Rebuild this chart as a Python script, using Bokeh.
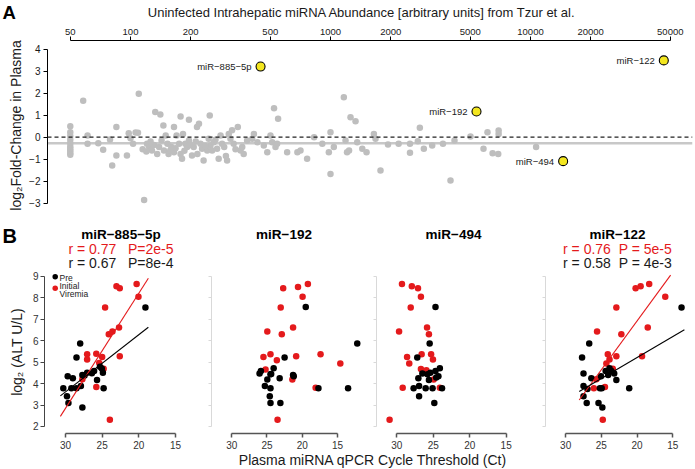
import numpy as np
from bokeh.plotting import figure
from bokeh.layouts import column, row
from bokeh.models import (Range1d, FixedTicker, PrintfTickFormatter, Span, Label, ColumnDataSource,
                          CustomLabelingPolicy)
from bokeh.embed import file_html
from bokeh.resources import INLINE
from bokeh.core.properties import value

FONT = "Liberation Sans"
RED = "#e41a1c"
BLACK = "#000000"
GRAY_PT = "#bebebe"
YELLOW = "#f3e61f"
TXT = "#1a1a1a"
NB = "\u00a0"

# ================= DATA : panel A =================
gray_abundance = [50, 50, 50, 50, 50, 50, 50, 50, 50, 50,
                  58, 61, 61, 69, 73, 79, 81, 85, 85, 96,
                  98, 100, 103, 106, 109, 110, 115, 117, 121, 124,
                  128, 131, 133, 136, 139, 141, 146, 147, 150, 153,
                  155, 160, 165, 165, 170, 175, 178, 178, 181, 183,
                  188, 192, 196, 196, 203, 207, 215, 216, 220, 224,
                  228, 232, 242, 249, 246, 251, 261, 271, 276, 282,
                  287, 304, 310, 316, 322, 328, 344, 355, 362, 368,
                  383, 406, 414, 431, 464, 483, 501, 511, 522, 531,
                  541, 547, 607, 683, 708, 764, 828, 910, 981, 1000,
                  1000, 1039, 1166, 1189, 1210, 1238, 1259, 1334, 1360, 1442,
                  1514, 1648, 1679, 1778, 1939, 2191, 2497, 2497, 2733, 2797,
                  2929, 3224, 3650, 3981, 4169, 5012, 5821, 6095, 6463, 6897,
                  6929, 6929, 10666, 143, 158, 168, 186, 199, 212, 236,
                  256, 266, 294, 300, 335, 120, 126]
gray_log2fc = [0.50, 0.22, 0.05, -0.12, -0.28, -0.42, -0.52, -0.62, -0.72, -0.80,
               1.66, 0.08, -0.30, -0.27, -0.57, -0.10, -1.29, 0.46, -0.83, -0.83,
               0.18, -0.05, -0.30, 0.21, 0.20, 1.97, -0.55, -2.85, -0.30, -0.45,
               -0.60, -0.35, 1.14, -0.76, -0.45, 1.03, 0.53, -0.60, 0.08, -0.30,
               -0.76, -0.45, 0.46, -0.68, 0.08, -0.30, 0.94, -0.76, -0.98, 0.15,
               -0.30, -0.45, 0.79, -0.15, -0.83, -0.45, 0.46, -0.76, 0.61, -0.30,
               -0.53, -1.06, -0.60, 0.99, -0.07, -0.38, -0.23, -0.53, -0.98, 0.08,
               -0.30, -1.06, 0.15, -0.07, 0.31, -0.30, 0.46, -0.60, -0.45, -0.76,
               -0.15, -0.07, 0.15, -0.23, -0.38, -0.68, 0.08, -0.23, 1.32, -0.45,
               -0.30, 0.84, -0.68, -0.68, -0.60, -0.98, 0.00, -0.30, -0.68, 0.23,
               -1.67, -0.45, 1.82, -0.15, -0.68, -0.60, 0.91, 0.73, -0.23, -0.53,
               -0.68, 0.15, -0.07, -1.51, -0.33, -0.30, -0.30, -0.71, -0.18, 0.43,
               -0.53, -0.38, -0.30, -1.97, -0.15, 0.03, -0.53, 0.23, -0.73, -0.76,
               0.30, 0.15, -0.45, -0.15, -0.60, -0.50, -0.62, -0.35, -0.20, -0.40,
               -0.60, -0.12, -0.45, -0.85, -0.55, -0.65, -0.20]
hl_names = ["miR\u2212885\u22125p", "miR\u2212192", "miR\u2212494", "miR\u2212122"]
hl_abundance = [447, 5370, 14560, 46400]
hl_log2fc = [3.21, 1.17, -1.09, 3.49]
median_log2fc = -0.28
a_xticks = [50, 100, 200, 500, 1000, 2000, 5000, 10000, 20000, 50000]
a_yticks = [-3, -2, -1, 0, 1, 2, 3, 4]
a_title = "Uninfected Intrahepatic miRNA Abundance [arbitrary units] from Tzur et al."
a_ylabel = "log\u2082Fold-Change in Plasma"

# ================= DATA : panel B =================
b_mirs = ["miR\u2212885\u22125p", "miR\u2212192", "miR\u2212494", "miR\u2212122"]
pre_ct = {
    "miR\u2212885\u22125p": [30.3, 29.8, 29.6, 29.7, 29.0, 29.2, 28.5, 28.0, 28.5, 27.9, 27.7,
                             27.7, 27.4, 27.05, 26.4, 26.1, 25.7, 25.3, 25.05, 24.9, 24.8, 19.1],
    "miR\u2212192": [19.5, 12.2, 22.5, 24.05, 25.86, 26.05, 24.5, 21.2, 23.2, 24.95, 25.3,
                     24.5, 17.7, 13.5, 24.6, 24.5, 23.1, 24.4, 21.3],
    "miR\u2212494": [24.7, 25.5, 27.2, 24.1, 24.7, 26.5, 25.8, 27.05, 24.3, 25.6, 26.95,
                     27.7, 26.05, 25.1, 23.8, 26.95, 24.86, 25.4, 24.6],
    "miR\u2212122": [13.77, 26.7, 27.7, 27.5, 26.4, 27.5, 26.95, 27.5, 27.05, 25.4, 24.86,
                     25.2, 24.95, 25.05, 24.4, 23.86, 24.05, 23.6, 23.2, 22.9, 21.1],
}
pre_alt = {
    "miR\u2212885\u22125p": [3.78, 3.41, 3.10, 4.34, 4.25, 3.78, 3.78, 5.86, 5.21, 3.88, 2.88,
                             4.40, 4.37, 4.50, 4.48, 4.59, 4.16, 4.78, 4.70, 4.50, 3.78, 7.54],
    "miR\u2212192": [7.56, 5.86, 5.21, 4.71, 4.59, 4.47, 4.43, 4.34, 4.25, 4.19, 3.88,
                     3.78, 3.78, 3.78, 3.41, 3.10, 3.10, 4.45, 4.40],
    "miR\u2212494": [7.56, 5.86, 5.21, 4.71, 4.59, 4.47, 4.43, 4.25, 4.34, 4.16, 3.88,
                     3.78, 3.78, 3.78, 3.78, 3.41, 3.10, 4.50, 4.28],
    "miR\u2212122": [7.54, 5.86, 5.21, 4.47, 4.25, 3.88, 3.75, 3.41, 3.10, 3.10, 2.88,
                     3.78, 3.78, 4.34, 4.59, 4.71, 4.40, 4.59, 4.47, 4.16, 3.78],
}
vir_ct = {
    "miR\u2212885\u22125p": [20.3, 20.05, 23.05, 22.6, 24.6, 24.1, 23.6, 22.7, 22.6, 25.0, 25.8,
                             27.05, 27.05, 25.4, 25.8, 23.95, 27.7, 24.8],
    "miR\u2212192": [19.2, 20.6, 22.7, 19.95, 23.05, 21.3, 24.95, 22.9, 17.4, 24.5, 25.5,
                     20.86, 23.6, 14.6, 25.2, 21.4, 18.1, 23.5],
    "miR\u2212494": [29.3, 27.95, 27.1, 26.7, 28.1, 25.86, 25.6, 29.7, 26.6, 28.6, 25.3,
                     25.05, 28.3, 26.7, 25.95, 24.95, 29.2, 24.1, 31.0],
    "miR\u2212122": [18.3, 19.5, 20.2, 16.05, 22.9, 25.6, 22.2, 18.5, 24.1, 23.86, 22.9,
                     19.3, 24.3, 25.7, 26.05, 24.5, 24.8, 23.4],
}
vir_alt = {
    "miR\u2212885\u22125p": [8.63, 8.04, 8.53, 8.44, 7.54, 6.30, 6.42, 6.61, 5.27, 5.24, 5.39,
                             5.37, 5.12, 4.96, 3.84, 2.32, 4.20, 4.69],
    "miR\u2212192": [8.63, 8.50, 8.44, 8.04, 7.54, 6.61, 6.42, 6.30, 5.37, 5.37, 5.24,
                     5.27, 5.09, 4.93, 4.65, 4.19, 3.81, 2.32],
    "miR\u2212494": [8.63, 8.53, 8.44, 8.04, 7.54, 6.61, 6.30, 6.42, 5.37, 5.24, 5.37,
                     5.12, 4.93, 4.68, 4.62, 4.19, 3.81, 3.81, 2.32],
    "miR\u2212122": [8.63, 8.53, 8.44, 8.04, 7.54, 6.42, 6.30, 6.61, 5.37, 5.12, 5.27,
                     5.27, 4.93, 4.20, 3.78, 3.84, 2.32, 4.69],
}
b_stats = {
    "miR\u2212885\u22125p": ("r = 0.77" + NB * 3 + "P=2e-5", "r = 0.67" + NB * 3 + "P=8e-4"),
    "miR\u2212122": ("r = 0.76" + NB * 2 + "P = 5e-5", "r = 0.58" + NB * 2 + "P = 4e-3"),
}
fit_y_limits = (1.85, 9.05)
b_xticks = [30, 25, 20, 15]
b_yticks = [2, 3, 4, 5, 6, 7, 8, 9]
b_ylabel = "log\u2082 (ALT U/L)"
b_xlabel = "Plasma miRNA qPCR Cycle Threshold (Ct)"
legend_labels = ["Pre", "Initial", "Viremia"]

# ================= GEOMETRY (page pixels) =================
WIN_W, WIN_H = 695, 469

# panel A
A_HEAD = 23
A_L, A_R, A_T, A_B = 47, 692, 40, 210
A_X = (38.46, 64565.0)
A_Y = (-3.332, 4.395)

# panel B
B_TOP, B_BOT, B_FIG_BOTTOM = 270, 433, 452
B_Y = (1.674, 9.264)
CT_PX = 7.333
fig_edges = [0, 199, 364, 533, WIN_W]
frames = [(44, 197), (205, 362), (375, 531), (541, 693)]
ct30_px = [65, 226, 395.5, 561.7]


def style_axis(a, size="10px", color="#000000", lw=1.0, tick_out=4, standoff=3, label_color=TXT):
    a.axis_line_color = color
    a.axis_line_width = lw
    a.major_tick_line_color = color
    a.major_tick_line_width = lw
    a.major_tick_out = tick_out
    a.major_tick_in = 0
    a.minor_tick_line_color = None
    a.major_label_text_font = FONT
    a.major_label_text_font_size = size
    a.major_label_text_color = label_color
    a.major_label_standoff = standoff
    a.axis_label_text_font = FONT
    a.axis_label_text_font_style = "normal"
    a.axis_label_text_color = TXT


def text_strip(top, bottom):
    """A blank figure whose data coordinates are page pixels; it holds free texts."""
    s = figure(width=WIN_W, height=bottom - top, x_range=Range1d(0, WIN_W), y_range=Range1d(bottom, top),
               toolbar_location=None, output_backend="svg", x_axis_type=None, y_axis_type=None,
               min_border_left=0, min_border_right=0, min_border_top=0, min_border_bottom=0)
    s.grid.visible = False
    s.outline_line_color = None
    s.background_fill_color = "white"
    s.border_fill_color = "white"
    return s


def add_text(fig, x, y, text, size, color=TXT, bold=False, align="center"):
    fig.add_layout(Label(x=x, y=y, text=text, text_align=align, text_baseline="middle",
                         text_font=FONT, text_font_size=size, text_color=color,
                         text_font_style="bold" if bold else "normal"))


# ---------- panel A header ----------
headA = text_strip(0, A_HEAD)
add_text(headA, 2, 12, "A", "18.5px", color="black", bold=True, align="left")
add_text(headA, 361.5, 12, a_title, "13px")

# ---------- panel A ----------
pA = figure(width=WIN_W, height=A_B - A_HEAD, x_axis_type="log", x_axis_location="above",
            x_range=Range1d(*A_X), y_range=Range1d(*A_Y),
            toolbar_location=None, output_backend="svg",
            min_border_left=A_L, min_border_right=WIN_W - A_R,
            min_border_top=A_T - A_HEAD, min_border_bottom=0)
pA.grid.visible = False
pA.outline_line_color = None
pA.background_fill_color = "white"
pA.border_fill_color = "white"

xa = pA.xaxis[0]
style_axis(xa, size="9.5px", standoff=2)
xa.ticker = FixedTicker(ticks=a_xticks)
xa.formatter = PrintfTickFormatter(format="%d")
xa.bounds = (a_xticks[0], a_xticks[-1])

ya = pA.yaxis[0]
style_axis(ya, size="10px", standoff=3)
ya.ticker = FixedTicker(ticks=a_yticks)
ya.bounds = (a_yticks[0], a_yticks[-1])
ya.axis_label = a_ylabel
ya.axis_label_text_font_size = "14px"
ya.axis_label_standoff = 2
ya.major_label_orientation = "horizontal"

pA.add_layout(Span(location=median_log2fc, dimension="width", line_color="#c8c8c8",
                   line_width=2.5, level="underlay"))
pA.scatter(gray_abundance, gray_log2fc, size=6.5, color=GRAY_PT, line_color=None)
pA.add_layout(Span(location=0, dimension="width", line_color="#222222", line_width=1.2,
                   line_dash="4 3"))
hl_src = ColumnDataSource(dict(x=hl_abundance, y=hl_log2fc, name=hl_names))
pA.scatter("x", "y", source=hl_src, size=9, fill_color=YELLOW, line_color="black", line_width=1.1)
pA.text("x", "y", text="name", source=hl_src, x_offset=-9, text_align="right",
        text_baseline="middle", text_font=value(FONT), text_font_size="9.5px", text_color=TXT)

# ---------- panel B header (titles and statistics) ----------
headB = text_strip(A_B, B_TOP)
add_text(headB, 2, 235, "B", "20px", color="black", bold=True, align="left")
for i, mir in enumerate(b_mirs):
    cx = (frames[i][0] + frames[i][1]) / 2
    add_text(headB, cx, 234, mir, "13.5px", color="black", bold=True)
    if mir in b_stats:
        red_txt, blk_txt = b_stats[mir]
        add_text(headB, cx, 248.7, red_txt, "14px", color=RED)
        add_text(headB, cx, 262.3, blk_txt, "14px", color=TXT)

hide_all_labels = CustomLabelingPolicy(code="""
for (const i of indices)
  indices.unset(i)
""")


def fit_segment(ct, alt, x_from, x_to):
    k, b = np.polyfit(ct, alt, 1)
    xs = np.array([x_from, x_to], dtype=float)
    ys = k * xs + b
    lo, hi = fit_y_limits
    for j in range(2):
        if ys[j] < lo:
            xs[j] = (lo - b) / k
            ys[j] = lo
        elif ys[j] > hi:
            xs[j] = (hi - b) / k
            ys[j] = hi
    return xs, ys


def by(py):
    return B_Y[1] - (py - B_TOP) / (B_BOT - B_TOP) * (B_Y[1] - B_Y[0])


subs = []
for i, mir in enumerate(b_mirs):
    fl, fr = frames[i]
    x0 = 30 + (ct30_px[i] - fl) / CT_PX
    x1 = 30 - (fr - ct30_px[i]) / CT_PX
    w = fig_edges[i + 1] - fig_edges[i]

    def bx(px, fl=fl, x0=x0):
        return x0 - (px - fl) / CT_PX

    p = figure(width=w, height=B_FIG_BOTTOM - B_TOP, x_range=Range1d(x0, x1), y_range=Range1d(*B_Y),
               toolbar_location=None, output_backend="svg",
               min_border_left=fl - fig_edges[i], min_border_right=fig_edges[i + 1] - fr,
               min_border_top=0, min_border_bottom=B_FIG_BOTTOM - B_BOT)
    p.grid.visible = False
    p.outline_line_color = None
    p.background_fill_color = "white"
    p.border_fill_color = "white"

    xb = p.xaxis[0]
    style_axis(xb, size="10px", color="#555555", lw=1.5, tick_out=4, standoff=3, label_color="#333333")
    xb.ticker = FixedTicker(ticks=b_xticks)
    xb.bounds = (min(b_xticks), max(b_xticks))

    yb = p.yaxis[0]
    yb.ticker = FixedTicker(ticks=b_yticks)
    yb.bounds = (b_yticks[0], b_yticks[-1])
    if i == 0:
        style_axis(yb, size="10px", color="#444444", lw=1.0, tick_out=4, standoff=2, label_color="#333333")
        yb.axis_label = b_ylabel
        yb.axis_label_text_font_size = "14px"
        yb.axis_label_standoff = 5
        yb.major_label_orientation = "horizontal"
    else:
        style_axis(yb, size="10px", color="#d9d9d9", lw=1.0, tick_out=3, standoff=0)
        yb.major_label_policy = hide_all_labels

    p.scatter(vir_ct[mir], vir_alt[mir], size=6.5, color=RED, line_color=None)
    p.scatter(pre_ct[mir], pre_alt[mir], size=6.5, color=BLACK, line_color=None)

    if mir in b_stats:
        all_ct = pre_ct[mir] + vir_ct[mir]
        span = (max(all_ct) + 0.4, min(all_ct) - 0.4)
        xs, ys = fit_segment(vir_ct[mir], vir_alt[mir], *span)
        p.line(xs, ys, line_color=RED, line_width=1.1)
        xs, ys = fit_segment(pre_ct[mir], pre_alt[mir], *span)
        p.line(xs, ys, line_color=BLACK, line_width=1.1)

    if i == 0:
        p.scatter([bx(54.7), bx(54.7)], [by(276.3), by(287.7)], size=5.5,
                  color=[BLACK, RED], line_color=None)
        for txt, py in zip(legend_labels, [277.7, 285.7, 293.0]):
            p.add_layout(Label(x=bx(59), y=by(py), text=txt, text_align="left", text_baseline="middle",
                               text_font=FONT, text_font_size="8.5px", text_color="#222222"))
    subs.append(p)

# ---------- footer with the shared x-axis title ----------
foot = text_strip(B_FIG_BOTTOM, WIN_H)
add_text(foot, 372.5, 459.8, b_xlabel, "14px")

# every figure sits in its own row so that the column does not align their frames
layout = column(row(headA), row(pA), row(headB), row(*subs, spacing=0), row(foot), spacing=0)

with open("out.html", "w") as f:
    f.write(file_html(layout, INLINE))
